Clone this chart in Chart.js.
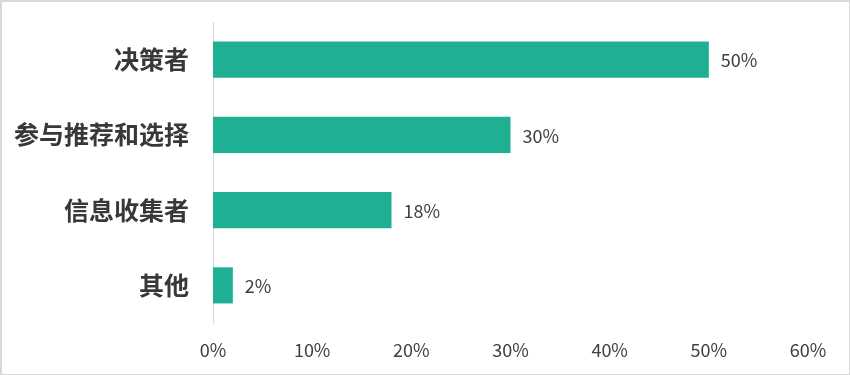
<!DOCTYPE html>
<html>
<head>
<meta charset="utf-8">
<script src="https://cdn.jsdelivr.net/npm/chart.js@4/dist/chart.umd.min.js"></script>
<style>
  html, body { margin: 0; padding: 0; background: #fff; }
  .chart-wrap { width: 850px; height: 375px; box-sizing: border-box; border: 1px solid #d9d9d9; border-left-width: 2px; border-top-width: 2px; position: relative; }
  canvas { display: block; }
</style>
</head>
<body>
<div class="chart-wrap"><canvas id="roleChart" width="847" height="372"></canvas></div>
<script>
const categories = ['决策者', '参与推荐和选择', '信息收集者', '其他'];
const shares = [50, 30, 18, 2];
const xTicks = [0, 10, 20, 30, 40, 50, 60];

const barColor = '#1fb094';
const textColor = '#404040';
const cjkFont = '"Noto Sans CJK SC", "Noto Sans", sans-serif';

// values printed to the right of each bar
const valueLabels = {
  id: 'valueLabels',
  afterDatasetsDraw(chart) {
    const { ctx } = chart;
    const meta = chart.getDatasetMeta(0);
    ctx.save();
    ctx.font = '18px ' + cjkFont;
    ctx.fillStyle = textColor;
    ctx.textAlign = 'left';
    ctx.textBaseline = 'middle';
    meta.data.forEach((bar, i) => {
      ctx.fillText(shares[i] + '%', bar.x + 12, bar.y + 1);
    });
    ctx.restore();
  }
};

new Chart(document.getElementById('roleChart'), {
  type: 'bar',
  data: {
    labels: categories,
    datasets: [{ data: shares, backgroundColor: barColor, categoryPercentage: 0.48, barPercentage: 1 }]
  },
  options: {
    indexAxis: 'y',
    responsive: false,
    animation: false,
    layout: { padding: { top: 20, right: 41, bottom: 0, left: 0 } },
    plugins: { legend: { display: false }, tooltip: { enabled: false } },
    scales: {
      x: {
        min: 0,
        max: 60,
        afterBuildTicks: (scale) => { scale.ticks = xTicks.map((v) => ({ value: v })); },
        grid: { display: false },
        border: { display: false },
        ticks: { color: textColor, font: { family: cjkFont, size: 18 }, padding: 8, callback: (v) => v + '%' },
        afterFit: (scale) => { scale.height = 51; }
      },
      y: {
        grid: { color: 'rgba(0,0,0,0)', drawTicks: false },
        border: { display: true, color: '#d9d9d9', width: 1 },
        ticks: { color: '#383838', font: { family: cjkFont, size: 25, weight: 'bold' }, padding: 24 },
        afterFit: (scale) => {
          scale.width = 211;
          scale.paddingTop = 0;
          scale.paddingBottom = 0;
        }
      }
    }
  },
  plugins: [valueLabels]
});
</script>
</body>
</html>
